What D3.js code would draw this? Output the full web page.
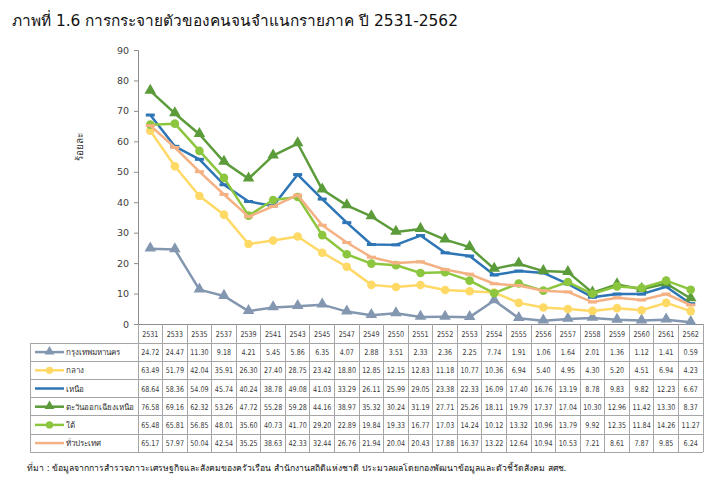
<!DOCTYPE html>
<html><head><meta charset="utf-8">
<script src="https://cdn.jsdelivr.net/npm/d3@7"></script>
<style>
html,body{margin:0;padding:0;background:#fff;}
svg{display:block;font-family:Tahoma,"DejaVu Sans","Noto Sans",sans-serif;}
</style></head>
<body>
<svg id="c" width="716" height="493"></svg>
<script>
const years = ["2531","2533","2535","2537","2539","2541","2543","2545","2547","2549","2550","2551","2552","2553","2554","2555","2556","2557","2558","2559","2560","2561","2562"];
const bangkok = [24.72,24.47,11.30,9.18,4.21,5.45,5.86,6.35,4.07,2.88,3.51,2.33,2.36,2.25,7.74,1.91,1.06,1.64,2.01,1.36,1.12,1.41,0.59];
const central = [63.49,51.79,42.04,35.91,26.30,27.40,28.75,23.42,18.80,12.85,12.15,12.83,11.18,10.77,10.36,6.94,5.40,4.95,4.30,5.20,4.51,6.94,4.23];
const north = [68.64,58.36,54.09,45.74,40.24,38.78,49.08,41.03,33.29,26.11,25.99,29.05,23.38,22.33,16.09,17.40,16.76,13.19,8.78,9.83,9.82,12.23,6.67];
const northeast = [76.58,69.16,62.32,53.26,47.72,55.28,59.28,44.16,38.97,35.32,30.24,31.19,27.71,25.26,18.11,19.79,17.37,17.04,10.30,12.96,11.42,13.30,8.37];
const south = [65.48,65.81,56.85,48.01,35.60,40.73,41.70,29.20,22.89,19.84,19.33,16.77,17.03,14.24,10.12,13.32,10.96,13.79,9.92,12.35,11.84,14.26,11.27];
const country = [65.17,57.97,50.04,42.54,35.25,38.63,42.33,32.44,26.76,21.94,20.04,20.43,17.88,16.37,13.22,12.64,10.94,10.53,7.21,8.61,7.87,9.85,6.24];
const seriesNames = ["กรุงเทพมหานคร","กลาง","เหนือ","ตะวันออกเฉียงเหนือ","ใต้","ทั่วประเทศ"];
const yTicks = [0,10,20,30,40,50,60,70,80,90];
const titleText = "ภาพที่ 1.6 การกระจายตัวของคนจนจำแนกรายภาค ปี 2531-2562";
const yLabel = "ร้อยละ";
const sourceText = "ที่มา : ข้อมูลจากการสำรวจภาวะเศรษฐกิจและสังคมของครัวเรือน สำนักงานสถิติแห่งชาติ ประมวลผลโดยกองพัฒนาข้อมูลและตัวชี้วัดสังคม สศช.";

(function () {
const series = [
  {name: seriesNames[0], values: bangkok, color: "#8497B0", marker: "tri", legendMarker: true},
  {name: seriesNames[1], values: central, color: "#FFD966", marker: "circle", legendMarker: true},
  {name: seriesNames[2], values: north, color: "#2E75B6", marker: "dash", legendMarker: false},
  {name: seriesNames[3], values: northeast, color: "#5B9B3A", marker: "tri", legendMarker: true},
  {name: seriesNames[4], values: south, color: "#8CC63F", marker: "circle", legendMarker: true},
  {name: seriesNames[5], values: country, color: "#F4B183", marker: "dash", legendMarker: false}
];

const svg = d3.select("#c");
const pLeft = 138, pRight = 703, pTop = 50, pBottom = 324;
const tableLeft = 30, rowH = 18.2, headH = 19;

const x = d3.scaleBand().domain(years).range([pLeft, pRight]).padding(0);
const y = d3.scaleLinear().domain([0, 90]).range([pBottom, pTop]);
const cx = d => x(d) + x.bandwidth() / 2;

svg.append("text").attr("x", 12).attr("y", 26).attr("font-size", 15.4).attr("fill", "#111").text(titleText);

const yAxis = d3.axisLeft(y).tickValues(yTicks).tickSize(4).tickPadding(5);
const gy = svg.append("g").attr("transform", `translate(${pLeft},0)`).call(yAxis);
gy.select(".domain").attr("stroke", "#8c8c8c");
gy.selectAll(".tick line").attr("stroke", "#8c8c8c");
gy.selectAll(".tick text").attr("font-size", 9.5).attr("fill", "#404040").attr("font-family", "Tahoma,'DejaVu Sans',sans-serif");

svg.append("text").attr("transform", `translate(83,${(pTop + pBottom) / 2 - 40}) rotate(-90)`)
  .attr("text-anchor", "middle").attr("font-size", 10).attr("fill", "#333").text(yLabel);

const nRows = series.length;
const tableTop = pBottom + headH;
const tableBottom = tableTop + nRows * rowH;
const grid = svg.append("g").attr("stroke", "#a6a6a6").attr("stroke-width", 1).attr("fill", "none").attr("shape-rendering", "crispEdges");
grid.append("line").attr("x1", pLeft - 4).attr("x2", pRight).attr("y1", pBottom).attr("y2", pBottom).attr("stroke", "#8c8c8c");
years.forEach(yr => {
  grid.append("line").attr("x1", x(yr)).attr("x2", x(yr)).attr("y1", pBottom).attr("y2", tableBottom);
});
grid.append("line").attr("x1", pRight).attr("x2", pRight).attr("y1", pBottom).attr("y2", tableBottom);
grid.append("line").attr("x1", tableLeft).attr("x2", tableLeft).attr("y1", tableTop).attr("y2", tableBottom);
for (let r = 0; r <= nRows; r++) {
  const yy = tableTop + r * rowH;
  grid.append("line").attr("x1", tableLeft).attr("x2", pRight).attr("y1", yy).attr("y2", yy);
}

const numFont = 8;
const sx = 0.8;
function numText(g, px, py, txt) {
  g.append("text").attr("transform", `translate(${px},${py}) scale(${sx},1)`)
    .attr("text-anchor", "middle").attr("font-size", numFont).attr("fill", "#3a3a3a")
    .attr("font-family", "Tahoma,'DejaVu Sans',sans-serif").text(txt);
}
const tg = svg.append("g");
years.forEach(yr => numText(tg, cx(yr), pBottom + headH / 2 + 3, yr));
series.forEach((s, r) => {
  const yy = tableTop + r * rowH + rowH / 2 + 3;
  s.values.forEach((v, i) => numText(tg, cx(years[i]), yy, v.toFixed(2)));
});

function drawMarker(g, m, px, py, color, scale) {
  scale = scale || 1;
  if (m === "circle") {
    g.append("circle").attr("cx", px).attr("cy", py).attr("r", 4.3 * scale).attr("fill", color);
  } else if (m === "tri") {
    g.append("path").attr("d", d3.symbol(d3.symbolTriangle, 58 * scale * scale)()).attr("transform", `translate(${px},${py - 0.5})`).attr("fill", color);
  } else if (m === "dash") {
    g.append("rect").attr("x", px - 4.5).attr("y", py - 1.5).attr("width", 9).attr("height", 3).attr("fill", color);
  }
}

const line = d3.line().x((d, i) => cx(years[i])).y(d => y(d));
series.forEach(s => {
  const g = svg.append("g");
  g.append("path").datum(s.values).attr("d", line).attr("fill", "none")
    .attr("stroke", s.color).attr("stroke-width", 2.5).attr("stroke-linejoin", "round");
  s.values.forEach((v, i) => drawMarker(g, s.marker, cx(years[i]), y(v), s.color));
});

series.forEach((s, r) => {
  const yy = tableTop + r * rowH + rowH / 2;
  const g = svg.append("g");
  g.append("line").attr("x1", 35).attr("x2", 64).attr("y1", yy).attr("y2", yy).attr("stroke", s.color).attr("stroke-width", 2.5);
  if (s.legendMarker) drawMarker(g, s.marker, 49.5, yy, s.color, 0.85);
  g.append("text").attr("x", 66).attr("y", yy + 3).attr("font-size", 8).attr("fill", "#333").text(s.name);
});

svg.append("text").attr("x", 27).attr("y", 471).attr("font-size", 8.6).attr("fill", "#111").text(sourceText);
})();
</script>
</body></html>
